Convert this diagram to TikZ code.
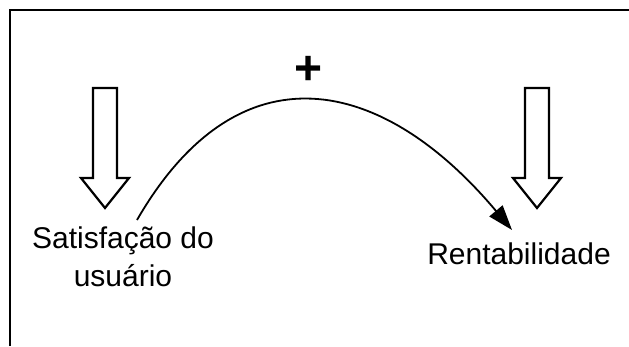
\documentclass[tikz,border=0pt]{standalone}
\usepackage{fontspec}
\setmainfont{Liberation Sans}
\usetikzlibrary{arrows.meta, positioning, calc}

\begin{document}
\begin{tikzpicture}[x=1pt, y=1pt,
    label/.style={align=center, inner sep=0pt, font=\fontsize{30}{37.5}\selectfont},
    sign/.style={inner sep=0pt, font=\fontsize{48}{48}\selectfont\bfseries},
    frame/.style={line width=2.8pt},
    link/.style={line width=1.8pt, -{Triangle[length=25pt, width=17pt]}},
    downarrow/.pic={\draw[line width=2.2pt, line join=miter]
        (-12,0) -- (12,0) -- (12,-90) -- (24,-90) -- (0,-120)
        -- (-24,-90) -- (-12,-90) -- cycle;}]
\useasboundingbox (0,0) rectangle (629,-346);
% frame
\draw[frame] (10,-346) -- (10,-10) -- (629,-10);
% hollow arrows
\pic at (105,-88) {downarrow};
\pic at (537,-88) {downarrow};
% texts
\node[label, anchor=base] (sat) at (123,-286) {Satisfação do\\usuário};
\node[label, anchor=base] (rent) at (519,-264) {Rentabilidade};
\node[sign] (plus) at (309,-70) {+};
% link
\coordinate (start) at (137,-220);
\coordinate (end) at (512,-230);
\draw[link] (start) to[out=60, in=130, looseness=1.38] (end);
\end{tikzpicture}
\end{document}
